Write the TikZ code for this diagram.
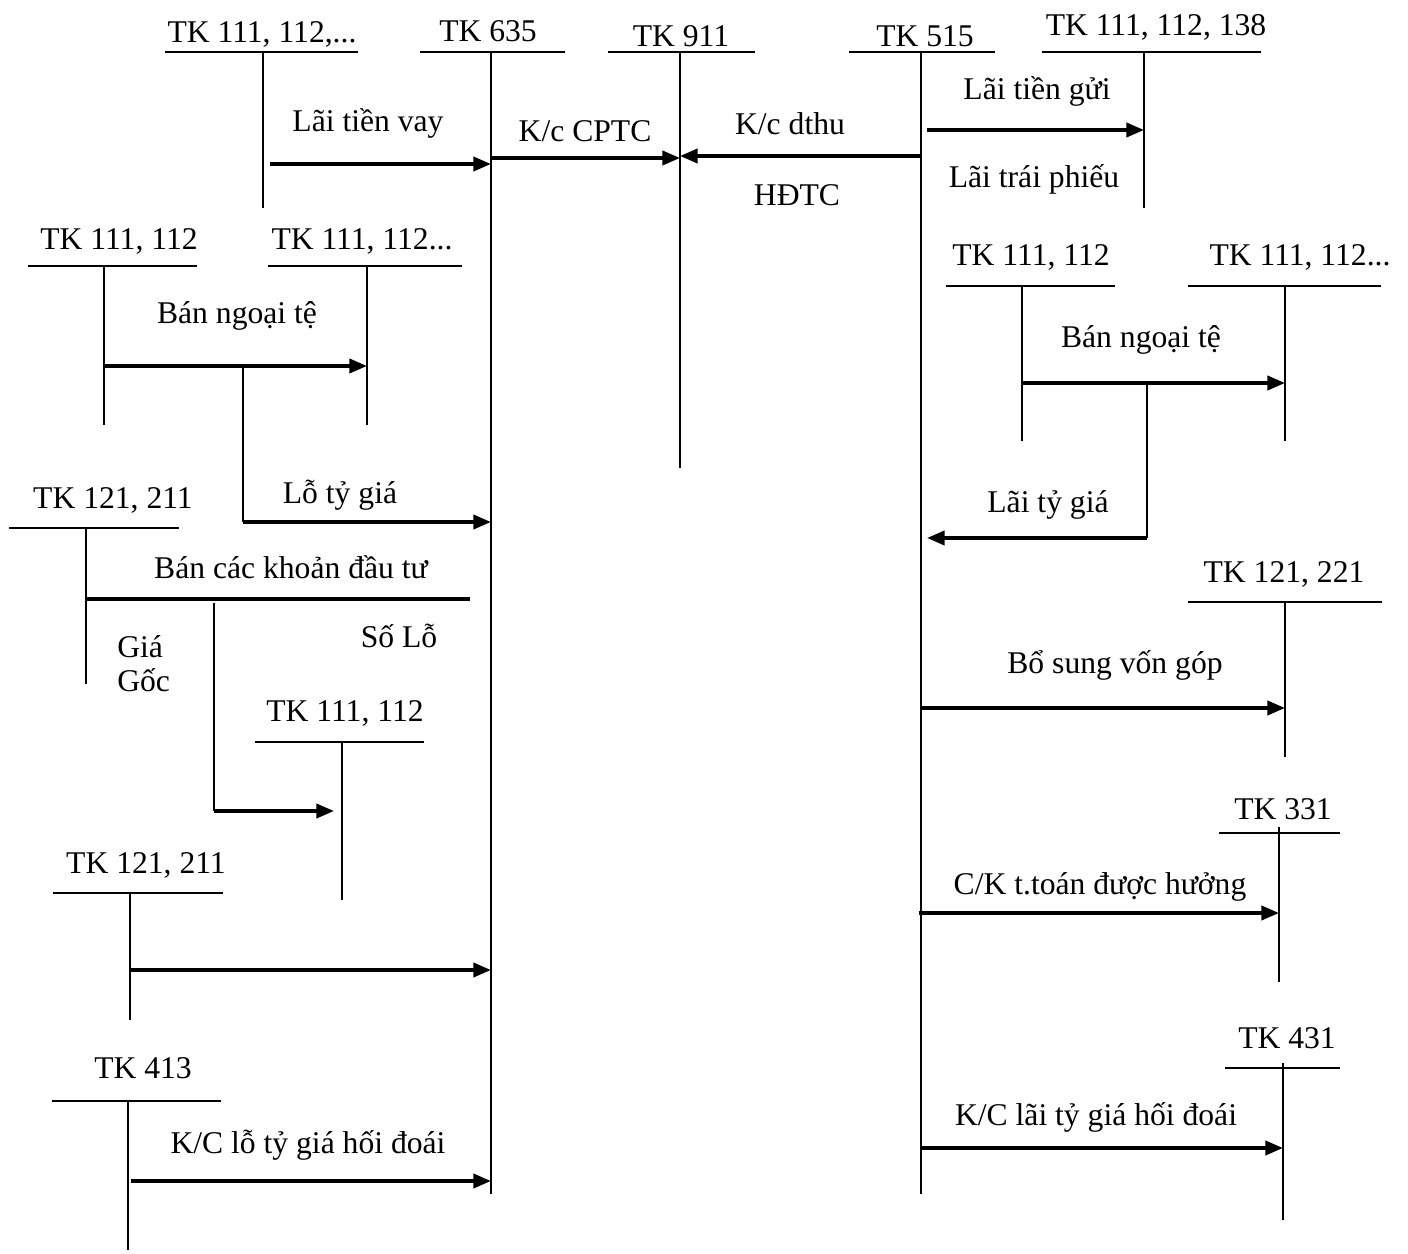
\documentclass[tikz,border=0pt]{standalone}
\usepackage{fontspec}
\setmainfont{Liberation Serif}
\usepackage{tikz}
\usetikzlibrary{arrows.meta, positioning, calc}

\begin{document}
\begin{tikzpicture}[
  x=0.02cm, y=-0.02cm,
  acct/.style={font=\fontsize{18}{22}\selectfont, inner sep=0pt, anchor=base},
  bar/.style={line width=1.2pt},
  leg/.style={line width=0.8pt},
  flow/.style={line width=2pt, -{Triangle[length=10pt, width=8pt]}},
  tie/.style={line width=2pt},
  drop/.style={line width=1.2pt}
]
  \useasboundingbox (0,0) rectangle (1408,1253);

  % top row of accounts
  \node[acct] (n111a) at (262,43) {TK 111, 112,...};
  \draw[bar] (165,52) -- (358,52);
  \draw[leg] (263,52) coordinate (v111a) -- (263,208);

  \node[acct] (n635) at (488,42) {TK 635};
  \draw[bar] (420,52) -- (565,52);
  \draw[leg, line width=1pt] (491,52) coordinate (v635) -- (491,1194);

  \node[acct] (n911) at (681,47) {TK 911};
  \draw[bar] (608,52) -- (755,52);
  \draw[leg] (680,52) coordinate (v911) -- (680,468);

  \node[acct] (n515) at (925,47) {TK 515};
  \draw[bar] (849,52) -- (995,52);
  \draw[leg, line width=1pt] (921,52) coordinate (v515) -- (921,1194);

  \node[acct] (n138) at (1156,36) {TK 111, 112, 138};
  \draw[bar] (1042,52) -- (1261,52);
  \draw[leg] (1144,52) coordinate (v138) -- (1144,208);

  \node[acct] (tVay) at (368,132) {Lãi tiền vay};
  \draw[flow] ($(v111a |- 0,164)+(7,0)$) -- (v635 |- 0,164);
  \node[acct] (tCptc) at (585,142) {K/c CPTC};
  \draw[flow] (v635 |- 0,158) -- (v911 |- 0,158);
  \node[acct] (tDthu) at (790,135) {K/c dthu};
  \node[acct] (tHdtc) at (797,206) {HĐTC};
  \draw[flow] (v515 |- 0,156) -- (v911 |- 0,156);
  \node[acct] (tGui) at (1037,100) {Lãi tiền gửi};
  \node[acct] (tPhieu) at (1034,188) {Lãi trái phiếu};
  \draw[flow] ($(v515 |- 0,130)+(6,0)$) -- (v138 |- 0,130);

  % left: selling foreign currency
  \node[acct] (nL1) at (119,250) {TK 111, 112};
  \draw[bar] (28,266) -- (197,266);
  \draw[leg] (104,266) coordinate (vL1) -- (104,425);
  \node[acct] (nL2) at (362,250) {TK 111, 112...};
  \draw[bar] (268,266) -- (462,266);
  \draw[leg] (367,266) coordinate (vL2) -- (367,425);
  \node[acct] (tBanL) at (237,323) {Bán ngoại tệ};
  \draw[flow] (vL1 |- 0,366) -- (vL2 |- 0,366);
  \coordinate (kL) at (243,366);
  \coordinate (cL) at (243,522);
  \draw[drop] (kL) -- (cL);
  \draw[flow] (cL) -- (v635 |- cL);
  \node[acct] (tLo) at (340,503) {Lỗ tỷ giá};

  % right: selling foreign currency
  \node[acct] (nR1) at (1031,266) {TK 111, 112};
  \draw[bar] (946,286) -- (1115,286);
  \draw[leg] (1022,286) coordinate (vR1) -- (1022,441);
  \node[acct] (nR2) at (1300,266) {TK 111, 112...};
  \draw[bar] (1188,286) -- (1381,286);
  \draw[leg] (1285,286) coordinate (vR2) -- (1285,441);
  \node[acct] (tBanR) at (1141,347) {Bán ngoại tệ};
  \draw[flow] (vR1 |- 0,383) -- (vR2 |- 0,383);
  \coordinate (kR) at (1147,383);
  \coordinate (cR) at (1147,538);
  \draw[drop] (kR) -- (cR);
  \draw[flow] (cR) -- ($(v515 |- cR)+(6,0)$);
  \node[acct] (tLai) at (1048,512) {Lãi tỷ giá};

  % left: selling investments
  \node[acct] (nI1) at (113,508) {TK 121, 211};
  \draw[bar] (9,528) -- (179,528);
  \draw[leg] (86,528) coordinate (vI1) -- (86,684);
  \node[acct] (tKhoan) at (291,578) {Bán các khoản đầu tư};
  \coordinate (eKhoan) at (470,599);
  \draw[tie] (vI1 |- eKhoan) -- (eKhoan);
  \node[acct] (tSoLo) at (399,647) {Số Lỗ};
  \node[acct, anchor=base west] (tGia) at (117,657) {Giá};
  \node[acct, anchor=base west] (tGoc) at (117,691) {Gốc};
  \node[acct] (nI2) at (345,721) {TK 111, 112};
  \draw[bar] (255,742) -- (424,742);
  \draw[leg] (342,742) coordinate (vI2) -- (342,900);
  \coordinate (kI) at (214,603);
  \coordinate (cI) at (214,811);
  \draw[drop] (kI) -- (cI);
  \draw[flow] (cI) -- ($(vI2 |- cI)+(-8,0)$);

  \node[acct] (nI3) at (146,873) {TK 121, 211};
  \draw[bar] (53,893) -- (223,893);
  \draw[leg] (130,893) coordinate (vI3) -- (130,1020);
  \draw[flow] (vI3 |- 0,970) -- (v635 |- 0,970);

  \node[acct] (n413) at (143,1078) {TK 413};
  \draw[bar] (52,1101) -- (221,1101);
  \draw[leg] (128,1101) coordinate (v413) -- (128,1250);
  \node[acct] (tLoHD) at (308,1153) {K/C lỗ tỷ giá hối đoái};
  \draw[flow] ($(v413 |- 0,1181)+(3,0)$) -- (v635 |- 0,1181);

  % right: other income entries
  \node[acct] (n221) at (1284,582) {TK 121, 221};
  \draw[bar] (1188,602) -- (1382,602);
  \draw[leg] (1285,602) coordinate (v221) -- (1285,757);
  \node[acct] (tVon) at (1115,673) {Bổ sung vốn góp};
  \draw[flow] (v515 |- 0,708) -- (v221 |- 0,708);

  \node[acct] (n331) at (1283,819) {TK 331};
  \draw[bar] (1219,833) -- (1340,833);
  \draw[leg] (1279,827) coordinate (v331) -- (1279,982);
  \node[acct] (tCK) at (1100,894) {C/K t.toán được hưởng};
  \draw[flow] ($(v515 |- 0,913)+(-2,0)$) -- (v331 |- 0,913);

  \node[acct] (n431) at (1287,1048) {TK 431};
  \draw[bar] (1225,1068) -- (1340,1068);
  \draw[leg] (1283,1063) coordinate (v431) -- (1283,1220);
  \node[acct] (tLaiHD) at (1096,1125) {K/C lãi tỷ giá hối đoái};
  \draw[flow] (v515 |- 0,1148) -- (v431 |- 0,1148);
\end{tikzpicture}
\end{document}
